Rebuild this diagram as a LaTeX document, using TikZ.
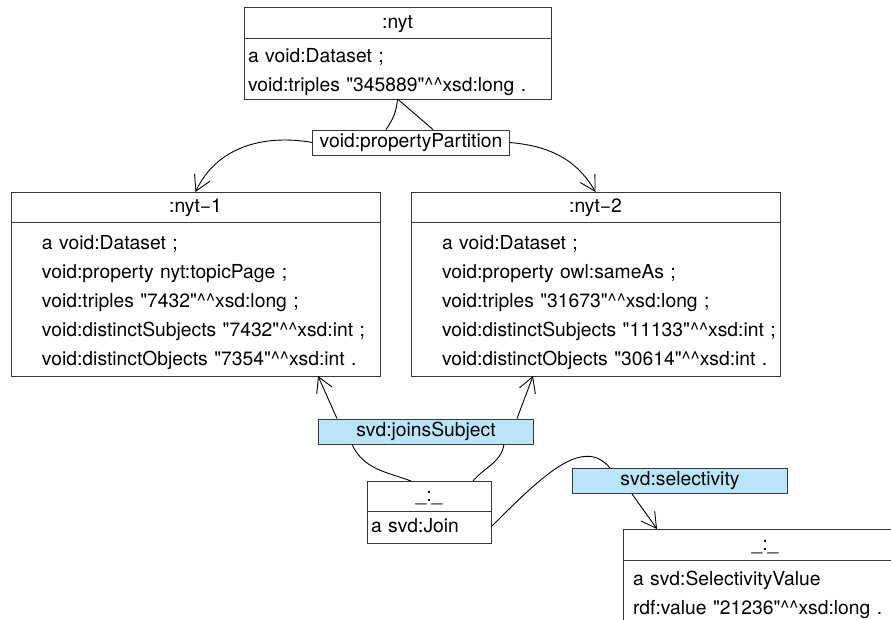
\documentclass[tikz,border=0pt]{standalone}
\usepackage{fontspec}
\setmainfont{TeX Gyre Heros}
\usetikzlibrary{positioning,arrows.meta}
\definecolor{svdblue}{RGB}{187,229,250}
\definecolor{boxline}{RGB}{55,55,55}
\newcommand{\lit}[2]{\textquotedbl#1\textquotedbl\textasciicircum\textasciicircum xsd:#2}

\begin{document}
\begin{tikzpicture}[x=1pt,y=-1pt,line width=.9pt,font=\fontsize{19.3}{29}\selectfont,
    head/.style={draw=boxline,inner sep=0pt,outer sep=0pt,execute at begin node=\strut},
    body/.style={draw=boxline,inner xsep=0pt,inner ysep=0pt,outer sep=0pt,align=left},
    textindent/.style={execute at begin node={\leftskip=#1pt\strut}},
    prop/.style={draw=boxline,fill=white,inner xsep=7pt,inner ysep=0pt,minimum height=25},
    svd/.style={prop,fill=svdblue,minimum width=215},
    arr/.style={-{Straight Barb[length=15pt,width=17pt]}}]
  \useasboundingbox (0,0) rectangle (891,620);
  \clip (0,0) rectangle (891,620);
  % resources
  \node[head,minimum width=307,minimum height=31] (nyt) at (397.5,22.5) {:nyt};
  \node[body,text width=307,minimum height=61,textindent=4,below=0pt of nyt] (nytbody)
    {a void:Dataset ;\\void:triples \lit{345889}{long} .};
  \node[head,minimum width=369,minimum height=30] (nyt1) at (195.5,207) {:nyt−1};
  \node[body,text width=369,minimum height=154,textindent=31,below=0pt of nyt1] (nyt1body)
    {a void:Dataset ;\\void:property nyt:topicPage ;\\void:triples \lit{7432}{long} ;\\
     void:distinctSubjects \lit{7432}{int} ;\\void:distinctObjects \lit{7354}{int} .};
  \node[head,minimum width=369,minimum height=30] (nyt2) at (595.5,207) {:nyt−2};
  \node[body,text width=369,minimum height=154,textindent=31,below=0pt of nyt2] (nyt2body)
    {a void:Dataset ;\\void:property owl:sameAs ;\\void:triples \lit{31673}{long} ;\\
     void:distinctSubjects \lit{11133}{int} ;\\void:distinctObjects \lit{30614}{int} .};
  \node[head,minimum width=124,minimum height=30] (join) at (429,496) {\_:\_};
  \node[body,text width=124,minimum height=32,textindent=4,below=0pt of join] (joinbody) {a svd:Join};
  \node[head,minimum width=284,minimum height=31] (selval) at (765,544.5) {\_:\_};
  \node[body,text width=284,minimum height=64,textindent=10,below=0pt of selval] (selvalbody)
    {a svd:SelectivityValue\\rdf:value \lit{21236}{long} .};
  % properties
  \node[prop] (pp) at (411,142.5) {void:propertyPartition};
  \node[svd] (js) at (426,431.5) {svd:joinsSubject};
  \node[svd] (svdsel) at (680,481) {svd:selectivity};
  \draw (nytbody.south) to[out=-95,in=55] ([xshift=-25]pp.north);
  \draw (nytbody.south) -- ([xshift=22]pp.north);
  \draw[arr] (pp.west) to[out=170,in=65] (nyt1.north);
  \draw[arr] (pp.east) to[out=-5,in=120] (nyt2.north);
  \draw ([xshift=-18]join.north) to[out=160,in=-65] ([xshift=-74]js.south);
  \draw ([xshift=44]join.north) to[out=50,in=-100] ([xshift=78]js.south);
  \draw[arr] ([xshift=-89]js.north) -- ([xshift=122.5]nyt1body.south);
  \draw[arr] ([xshift=91]js.north) -- ([xshift=-62.5]nyt2body.south);
  \draw (joinbody.east) .. controls +(50,-50) and +(-27,-33) .. ([xshift=-70]svdsel.north);
  \draw[arr] ([xshift=-48]svdsel.south) -- ([xshift=-108]selval.north);
\end{tikzpicture}
\end{document}
